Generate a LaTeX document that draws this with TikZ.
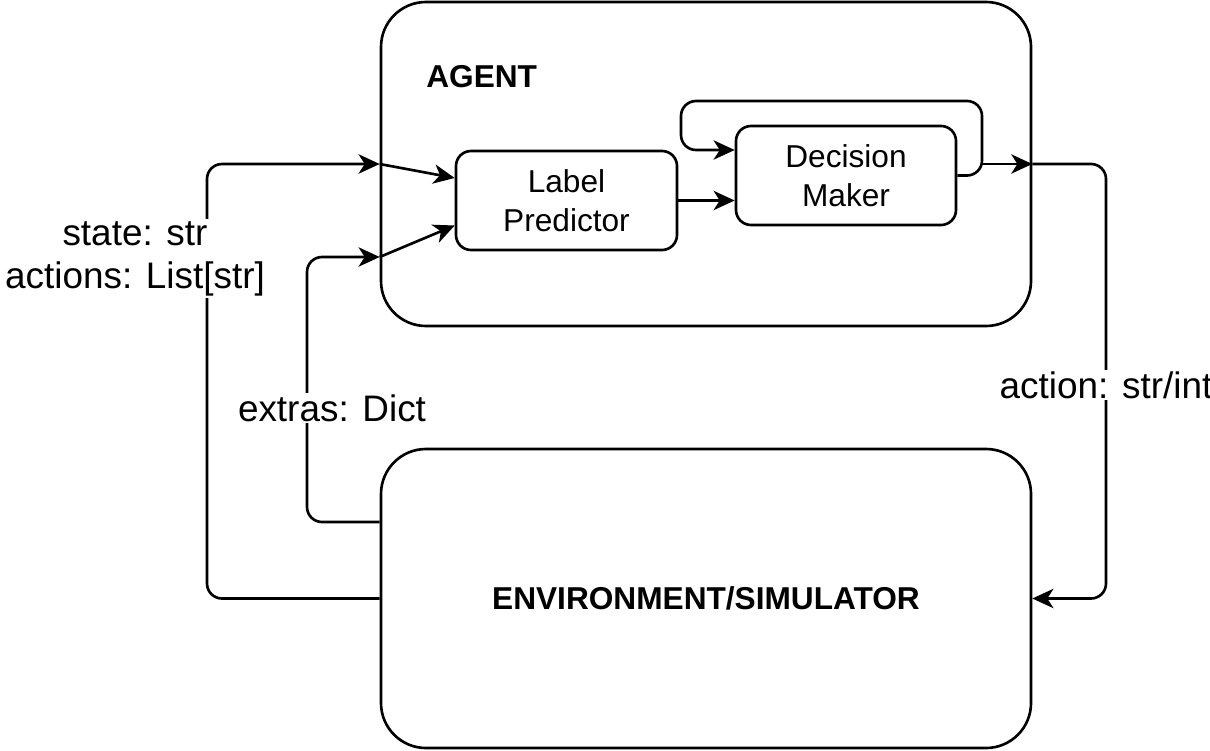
\documentclass[tikz,border=0pt]{standalone}
\usepackage{fontspec}
\setmainfont{Liberation Sans}
\usetikzlibrary{positioning,arrows.meta,calc}

\begin{document}
\begin{tikzpicture}[
  >={Stealth[length=12pt,width=11pt,inset=3.5pt]},
  bigbox/.style={draw,line width=1.5pt,rounded corners=0.9cm},
  box/.style={draw,line width=1.5pt,rounded corners=0.3cm,align=center,font=\fontsize{18}{22}\selectfont},
  flow/.style={draw,->,line width=1.5pt,rounded corners=0.3cm},
  lbl/.style={fill=white,inner sep=1pt,align=center,font=\fontsize{21}{24.5}\selectfont}
]
\useasboundingbox (0,0) rectangle (24.2,15);
% Agent
\node[bigbox,minimum width=13cm,minimum height=6.48cm] (agent) at (14.12,11.72) {};
\node[font=\bfseries\fontsize{18}{22}\selectfont,anchor=west,inner sep=0pt] (agenttitle) at (8.52,13.46) {AGENT};
\node[box,minimum width=4.42cm,minimum height=1.98cm] (LP) at (11.33,10.99) {Label\\Predictor};
\node[box,minimum width=4.4cm,minimum height=1.98cm] (DM) at (16.92,11.49) {Decision\\Maker};
% Environment
\node[bigbox,minimum width=13cm,minimum height=5.98cm] (env) at (14.12,3.03) {};
\node[font=\bfseries\fontsize{18}{22}\selectfont] (envtitle) at (env.center) {ENVIRONMENT/SIMULATOR};
% Inputs to agent
\coordinate (extrasin) at (agent.west |- 0,9.86);
\draw[flow] (env.west) -| (4.14,11.72) -- (agent.west);
\draw[flow] ([yshift=1.53cm]env.west) -| (6.14,9.86) -- (extrasin);
\draw[flow] (agent.west) -- ([yshift=0.45cm]LP.west);
\draw[flow] (extrasin) -- ([yshift=-0.5cm]LP.west);
% Inside agent
\draw[flow] (LP.east) -- (LP.east -| DM.west);
\draw[flow] (DM.east) -- (19.64,11.49) -- (19.64,12.98) -- (13.62,12.98) -- (13.62,12.0) -- ([yshift=0.51cm]DM.west);
% Action back to environment
\coordinate (dmout) at (19.64,11.72);
\draw[flow] (dmout) -- (agent.east);
\draw[flow] (agent.east) -| (22.12,3.03) -- (env.east);
% Labels
\node[lbl] (statelbl) at (2.7,9.83) {state: str\\actions: List[str]};
\node[lbl] (extraslbl) at (6.64,6.84) {extras: Dict};
\node[lbl] (actionlbl) at (22.12,7.3) {action: str/int};
\end{tikzpicture}
\end{document}
